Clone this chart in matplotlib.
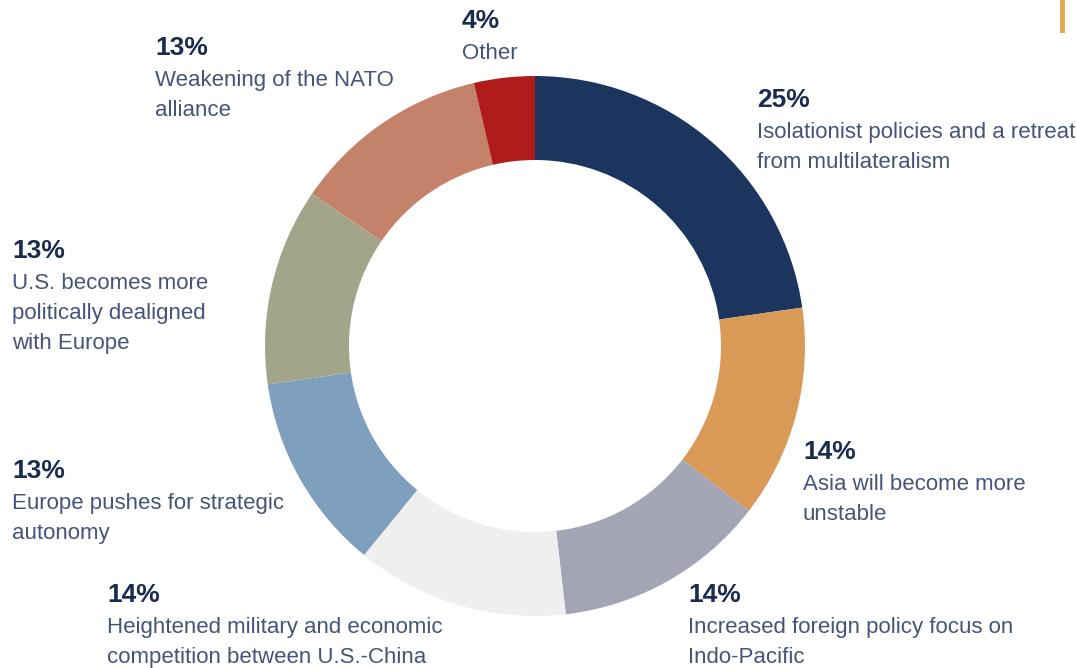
import matplotlib
matplotlib.use("Agg")
from matplotlib import pyplot as plt
from matplotlib.patches import Rectangle

plt.rcParams['font.family'] = ['Liberation Sans', 'DejaVu Sans']

# share of answers, clockwise from 12 o'clock
values = [25, 14, 14, 14, 13, 13, 13, 4]
pct_labels = ['25%', '14%', '14%', '14%', '13%', '13%', '13%', '4%']
labels = [
    'Isolationist policies and a retreat\nfrom multilateralism',
    'Asia will become more\nunstable',
    'Increased foreign policy focus on\nIndo-Pacific',
    'Heightened military and economic\ncompetition between U.S.-China',
    'Europe pushes for strategic\nautonomy',
    'U.S. becomes more\npolitically dealigned\nwith Europe',
    'Weakening of the NATO\nalliance',
    'Other',
]
colors = ['#1c355e', '#d99a57', '#a3a5b5', '#efeff0',
          '#7f9fbf', '#a3a58b', '#c5826a', '#b01b1b']

# label anchor (left x, baseline of the percentage) in pixels from top-left
label_pos = [(757, 107), (803, 459), (688, 602), (107, 602),
             (12, 478), (12, 258), (155, 55), (462, 28)]

W, H = 1077, 668
fig = plt.figure(figsize=(W / 100, H / 100), dpi=100)
ax = fig.add_axes([0, 0, 1, 1])

ax.pie(values, colors=colors, startangle=90, counterclock=False,
       center=(535, H - 346), radius=270,
       wedgeprops=dict(width=84, linewidth=0))

ax.set_xlim(0, W)
ax.set_ylim(0, H)
ax.set_aspect('equal')
ax.axis('off')

for pct, lab, (x, y) in zip(pct_labels, labels, label_pos):
    ax.text(x, H - y, pct, fontsize=19, fontweight='bold', color='#1a2b50',
            ha='left', va='baseline')
    for i, line in enumerate(lab.split('\n')):
        ax.text(x, H - (y + 31 + 30 * i), line, fontsize=16, color='#46537a',
                ha='left', va='baseline')

# small accent bar in the top right corner
ax.add_patch(Rectangle((1060, H - 33), 5, 33, color='#dfae55', linewidth=0))

fig.savefig('out.png', dpi=100)
